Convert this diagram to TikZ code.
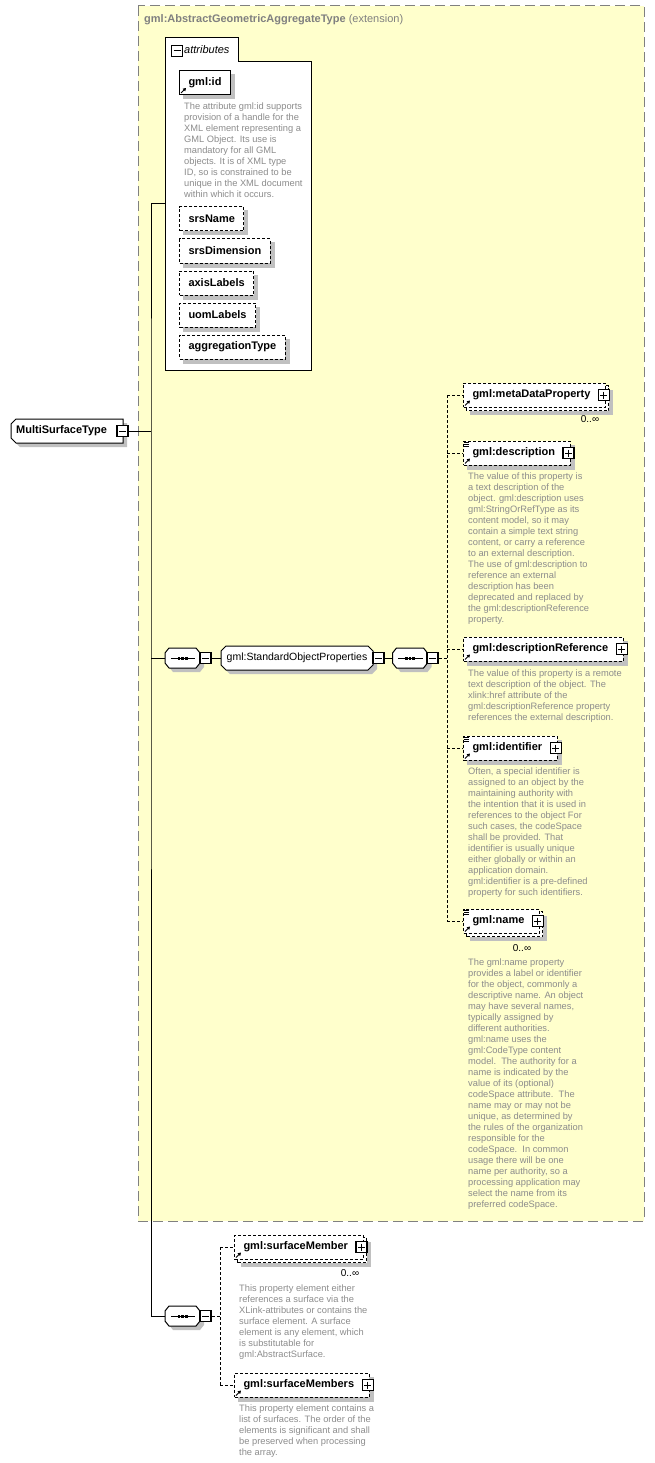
\documentclass[tikz,border=0pt]{standalone}
\usepackage{fontspec}
\setmainfont{Liberation Sans}
\usetikzlibrary{arrows.meta,positioning,calc}
\definecolor{extyellow}{RGB}{255,255,204}
\definecolor{extborder}{RGB}{128,128,128}
\definecolor{shadowgray}{RGB}{192,192,192}
\definecolor{doctext}{RGB}{140,140,140}
\newcommand{\lblfont}{\fontsize{11}{13}\selectfont\bfseries}
\newcommand{\docfont}{\fontsize{9.3}{11}\selectfont}
\pgfdeclarelayer{frame}
\pgfdeclarelayer{shadow}
\pgfsetlayers{frame,shadow,main}

\tikzset{
  attr/.style={draw, line width=1pt, fill=white, anchor=west, font=\lblfont,
    minimum height=24pt, inner xsep=9pt, inner ysep=0pt},
  optattr/.style={attr, dash pattern=on 3pt off 2pt},
  elem/.style={attr, dash pattern=on 3pt off 2pt, execute at end node={\hspace*{6pt}}},
  multielem/.style={elem},
  backbox/.style={draw=black, fill=white, line width=1pt, dash pattern=on 3pt off 2pt},
  shadowfill/.style={fill=shadowgray, draw=none},
  chamfline/.style={draw, line width=1pt, fill=white},
  seqbox/.style={minimum width=35pt, minimum height=20pt, inner sep=0pt},
  grp/.style={font=\fontsize{10.5}{12}\selectfont, minimum width=152pt,
    minimum height=24pt, inner sep=0pt},
  pmbox/.style={draw, line width=1.3pt, fill=white, minimum size=11pt, inner sep=0pt},
  minusbox/.style={pmbox, path picture={\draw[line width=1pt]
    ([xshift=2pt]path picture bounding box.west) -- ([xshift=-2pt]path picture bounding box.east);}},
  plusbox/.style={pmbox, path picture={\draw[line width=1pt]
    ([xshift=2pt]path picture bounding box.west) -- ([xshift=-2pt]path picture bounding box.east)
    ([yshift=-2pt]path picture bounding box.north) -- ([yshift=2pt]path picture bounding box.south);}},
  doc/.style={anchor=north west, font=\docfont, text=doctext, align=left, inner sep=0pt},
  occ/.style={font=\fontsize{10}{12}\selectfont, inner sep=0pt},
  conn/.style={line width=1pt, dash pattern=on 3pt off 2pt},
  link/.style={line width=1pt},
  refarrow/.style={line width=0.9pt, -{Triangle[length=3pt,width=3.5pt]}}
}

\begin{document}
\begin{tikzpicture}[x=1pt,y=-1pt]
  \useasboundingbox (0,0) rectangle (655,1463);
  % extension frame and attributes panel
  \begin{pgfonlayer}{frame}
    \draw[fill=extyellow, draw=extborder, line width=1pt, dash pattern=on 10pt off 5pt]
      (138,6) rectangle (644,1221);
    \draw[fill=white, line width=1pt] (165,370) -- (165,38) -- (238,38) -- (238,62)
      -- (311,62) -- (311,370) -- cycle;
  \end{pgfonlayer}
  \node[anchor=base west, inner sep=0pt, text=extborder, font=\lblfont] (exttitle) at (144,23)
    {gml:AbstractGeometricAggregateType {\mdseries (extension)}};

  \node[minusbox] (attrm) at (177,51) {};
  \node[anchor=west, inner sep=0pt, font=\fontsize{11}{13}\selectfont\itshape] (attrlbl) at (184,50) {attributes};
  \coordinate (attrin) at (165,204);
  \node[attr] (gid) at (179,82.5) {gml:id};
  \node[doc] (giddoc) at (184,103) {The attribute gml:id supports\\provision of a handle for the\\XML element representing a\\GML Object. Its use is\\mandatory for all GML\\objects. It is of XML type\\ID, so is constrained to be\\unique in the XML document\\within which it occurs.};
  \node[optattr] (srsname) at (179,219) {srsName};
  \node[optattr] (srsdim) at (179,251) {srsDimension};
  \node[optattr] (axislbl) at (179,283) {axisLabels};
  \node[optattr] (uomlbl) at (179,315) {uomLabels};
  \node[optattr] (aggtype) at (179,347) {aggregationType};

  % chamfered outlines (complex type, group, compositors) and their shadows
  \begin{pgfonlayer}{shadow}
    \begin{scope}[shift={(4,4)}]
      \fill[shadowfill] (16,419) -- (123,419) -- (123,443) -- (16,443) -- (11,438) -- (11,424) -- cycle;
      \fill[shadowfill] (226,646) -- (368,646) -- (373,651) -- (373,665) -- (368,670) -- (226,670)
        -- (221,665) -- (221,651) -- cycle;
      \foreach \cx/\cy in {182.5/658,410/658,182.5/1316}
        \fill[shadowfill] (\cx-13.5,\cy-10) -- (\cx+13.5,\cy-10) -- (\cx+17.5,\cy-5) -- (\cx+17.5,\cy+5)
          -- (\cx+13.5,\cy+10) -- (\cx-13.5,\cy+10) -- (\cx-17.5,\cy+5) -- (\cx-17.5,\cy-5) -- cycle;
    \end{scope}
  \end{pgfonlayer}
  \draw[chamfline] (16,419) -- (123,419) -- (123,443) -- (16,443) -- (11,438) -- (11,424) -- cycle;
  \draw[chamfline] (226,646) -- (368,646) -- (373,651) -- (373,665) -- (368,670) -- (226,670)
    -- (221,665) -- (221,651) -- cycle;
  \foreach \cx/\cy in {182.5/658,410/658,182.5/1316}
    \draw[chamfline] (\cx-13.5,\cy-10) -- (\cx+13.5,\cy-10) -- (\cx+17.5,\cy-5) -- (\cx+17.5,\cy+5)
      -- (\cx+13.5,\cy+10) -- (\cx-13.5,\cy+10) -- (\cx-17.5,\cy+5) -- (\cx-17.5,\cy-5) -- cycle;

  % root type
  \node[anchor=west, font=\lblfont, inner sep=0pt] (mst) at (16,431) {MultiSurfaceType};
  \node[minusbox] (mstm) at (122.5,431) {};
  \coordinate (trunk) at (151,431);

  % first sequence
  \node[seqbox] (seqA) at (182.5,658) {};
  \node[minusbox] (seqAm) at (205.5,658) {};
  \node[grp] (sop) at (297,658) {gml:StandardObjectProperties};
  \node[minusbox] (sopm) at (378.5,658) {};
  \node[seqbox] (seqB) at (410,658) {};
  \node[minusbox] (seqBm) at (432.5,658) {};
  \coordinate (forkB) at (447,658);

  \node[multielem] (meta) at (463,395) {gml:metaDataProperty};
  \node[occ] (metaocc) at (590,419) {0..∞};
  \node[elem] (desc) at (463,453) {gml:description};
  \node[doc] (descdoc) at (468,473) {The value of this property is\\a text description of the\\object. gml:description uses\\gml:StringOrRefType as its\\content model, so it may\\contain a simple text string\\content, or carry a reference\\to an external description.\\The use of gml:description to\\reference an external\\description has been\\deprecated and replaced by\\the gml:descriptionReference\\property.};
  \node[elem] (descref) at (463,649) {gml:descriptionReference};
  \node[doc] (descrefdoc) at (468,670) {The value of this property is a remote\\text description of the object. The\\xlink:href attribute of the\\gml:descriptionReference property\\references the external description.};
  \node[elem] (ident) at (463,748) {gml:identifier};
  \node[doc] (identdoc) at (468,768) {Often, a special identifier is\\assigned to an object by the\\maintaining authority with\\the intention that it is used in\\references to the object For\\such cases, the codeSpace\\shall be provided. That\\identifier is usually unique\\either globally or within an\\application domain.\\gml:identifier is a pre-defined\\property for such identifiers.};
  \node[multielem] (gname) at (463,921) {gml:name};
  \node[occ] (gnameocc) at (522,948) {0..∞};
  \node[doc] (gnamedoc) at (468,959) {The gml:name property\\provides a label or identifier\\for the object, commonly a\\descriptive name. An object\\may have several names,\\typically assigned by\\different authorities.\\gml:name uses the\\gml:CodeType content\\model.\ \ The authority for a\\name is indicated by the\\value of its (optional)\\codeSpace attribute.\ \ The\\name may or may not be\\unique, as determined by\\the rules of the organization\\responsible for the\\codeSpace.\ \ In common\\usage there will be one\\name per authority, so a\\processing application may\\select the name from its\\preferred codeSpace.};

  % second sequence
  \node[seqbox] (seqC) at (182.5,1316) {};
  \node[minusbox] (seqCm) at (205.5,1316) {};
  \coordinate (forkC) at (220,1316);
  \node[multielem] (smember) at (234,1247) {gml:surfaceMember};
  \node[occ] (smemberocc) at (350,1273) {0..∞};
  \node[doc] (smemberdoc) at (239,1285) {This property element either\\references a surface via the\\XLink-attributes or contains the\\surface element. A surface\\element is any element, which\\is substitutable for\\gml:AbstractSurface.};
  \node[elem] (smembers) at (234,1385) {gml:surfaceMembers};
  \node[doc] (smembersdoc) at (239,1405) {This property element contains a\\list of surfaces. The order of the\\elements is significant and shall\\be preserved when processing\\the array.};

  % shadows of the boxes, back copies of repeated elements
  \begin{pgfonlayer}{shadow}
    \foreach \n in {gid,srsname,srsdim,axislbl,uomlbl,aggtype,desc,descref,ident,smembers}
      \fill[shadowfill] ($(\n.south west)+(4pt,-4pt)$) rectangle ($(\n.north east)+(4pt,-4pt)$);
    \foreach \n in {meta,gname,smember} {
      \fill[shadowfill] ($(\n.south west)+(7pt,-7pt)$) rectangle ($(\n.north east)+(7pt,-7pt)$);
      \filldraw[backbox] ($(\n.south west)+(3pt,-3pt)$) rectangle ($(\n.north east)+(3pt,-3pt)$);
    }
  \end{pgfonlayer}

  % plus boxes and icons
  \foreach \n in {meta,desc,descref,ident,gname,smember,smembers}
    \node[plusbox] (\n p) at ([xshift=-2pt]\n.east) {};
  \foreach \n in {gid,meta,desc,descref,ident,gname,smember,smembers}
    \draw[refarrow] ([xshift=2pt,yshift=2pt]\n.south west) -- ++(5pt,5pt);
  \foreach \n in {desc,ident,gname}
    \foreach \k in {2pt,4pt,6pt}
      \draw[line width=0.8pt] ([xshift=1pt,yshift=-\k]\n.north west) -- ++(5pt,0pt);
  \foreach \s in {seqA,seqB,seqC} {
    \draw[line width=1pt] ([xshift=6pt]\s.west) -- ([xshift=-5pt]\s.east);
    \foreach \d in {-5pt,-1.3pt,2.4pt}
      \fill ([xshift=\d,yshift=-1.5pt]\s.center) rectangle +(2.7pt,3pt);
  }

  % connectors
  \draw[link] (mstm.east) -- (trunk);
  \draw[link] (attrin) -| (trunk) -- (trunk |- seqC.west) -- (seqC.west);
  \draw[link] (trunk |- seqA.west) -- (seqA.west);
  \draw[link] (seqAm.east) -- (sop.west);
  \draw[link] (sopm.east) -- (seqB.west);
  \draw[conn] (seqBm.east) -- (forkB);
  \draw[conn] (forkB |- meta.west) -- (forkB |- gname.west);
  \foreach \n in {meta,desc,descref,ident,gname}
    \draw[conn] (forkB |- \n.west) -- (\n.west);
  \draw[conn] (seqCm.east) -- (forkC);
  \draw[conn] (forkC |- smember.west) -- (forkC |- smembers.west);
  \foreach \n in {smember,smembers}
    \draw[conn] (forkC |- \n.west) -- (\n.west);
\end{tikzpicture}
\end{document}
